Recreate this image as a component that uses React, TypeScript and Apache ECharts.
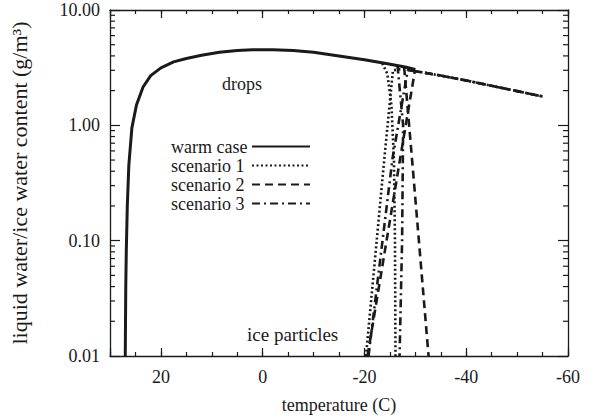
import React, { useEffect, useRef } from 'react';
import * as echarts from 'echarts';

// ---------- data (temperature in C, water content in g/m^3) ----------
const warmT = [27.0, 26.95, 26.9, 26.8, 26.6, 26.3, 25.7, 24.8, 23.5, 22, 20, 17.5, 15, 12, 8.5, 5, 2, -2, -6, -10, -15, -20, -24, -28, -30];
const warmV = [0.01, 0.02, 0.04, 0.08, 0.2, 0.45, 0.95, 1.5, 2.15, 2.7, 3.15, 3.55, 3.8, 4.05, 4.3, 4.45, 4.52, 4.53, 4.45, 4.3, 4.0, 3.7, 3.45, 3.2, 3.05];

const tailT = [-30, -35, -40, -45, -50, -55];
const tailV = [2.95, 2.7, 2.45, 2.2, 1.98, 1.78];

const s1DropT = [-23.5, -24.5, -25.3, -25.8, -26.0, -26.1];
const s1DropV = [3.45, 2.8, 1.5, 0.5, 0.1, 0.01];
const s1IceT = [-20.3, -23.9, -25.6, -28];
const s1IceV = [0.01, 0.51, 3.0, 3.1];

const s2DropT = [-27.8, -29.35, -32.6];
const s2DropV = [3.2, 0.51, 0.01];
const s2IceT = [-20.6, -27.0, -29.9];
const s2IceV = [0.01, 0.51, 2.95];

const s3DropT = [-26.5, -27.6, -27.4, -26.9];
const s3DropV = [3.3, 1.0, 0.1, 0.01];
const s3IceT = [-20.8, -25.5, -28.5];
const s3IceV = [0.01, 0.51, 3.0];

const yMinorTicks = [0.02, 0.03, 0.04, 0.05, 0.06, 0.07, 0.08, 0.09, 0.2, 0.3, 0.4, 0.5, 0.6, 0.7, 0.8, 0.9, 2, 3, 4, 5, 6, 7, 8, 9];

const legendNames = ['warm case', 'scenario 1', 'scenario 2', 'scenario 3'];

const FONT = '"Liberation Serif", "Times New Roman", serif';
const INK = '#1a1a1a';

const zip = (t: number[], v: number[]) => t.map((x, i) => [x, v[i]]);

function lineSeries(name: string, data: number[][], dash: any, width = 2.6) {
  return {
    type: 'line',
    name,
    data,
    xAxisIndex: 0,
    yAxisIndex: 0,
    showSymbol: false,
    symbol: 'none',
    smooth: false,
    lineStyle: { color: INK, width, type: dash },
    itemStyle: { color: INK },
    emphasis: { disabled: true },
  };
}

export default function App() {
  const ref = useRef<HTMLDivElement>(null);
  useEffect(() => {
    if (!ref.current) return;
    const chart = echarts.init(ref.current, null, { renderer: 'svg' });
    const xBase = {
      type: 'value',
      min: -60,
      max: 30,
      inverse: true,
      splitLine: { show: false },
    };
    const axLine = { show: true, onZero: false, lineStyle: { color: INK, width: 1.3 } };
    const option: any = {
      animation: false,
      backgroundColor: '#ffffff',
      grid: { left: 104, right: 26, top: 10, bottom: 60 },
      legend: {
        data: legendNames,
        orient: 'vertical',
        left: 166,
        top: 132,
        align: 'right',
        itemGap: 0,
        itemWidth: 58,
        itemHeight: 14,
        selectedMode: false,
        itemStyle: { opacity: 0 },
        formatter: (name: string) => '{t|' + name + '}',
        textStyle: {
          fontFamily: FONT,
          fontSize: 18,
          color: INK,
          lineHeight: 19,
          rich: {
            t: { width: 76, align: 'left', fontFamily: FONT, fontSize: 18, color: INK, lineHeight: 19 },
          },
        },
      },
      xAxis: [
        {
          ...xBase,
          position: 'bottom',
          interval: 20,
          axisLine: axLine,
          axisTick: { show: true, inside: true, length: 8, lineStyle: { color: INK, width: 1.2 } },
          axisLabel: {
            fontFamily: FONT,
            fontSize: 18,
            color: INK,
            margin: 12,
            formatter: (v: number) => (v === 30 ? '' : String(v)),
          },
          name: 'temperature (C)',
          nameLocation: 'middle',
          nameGap: 40,
          nameTextStyle: { fontFamily: FONT, fontSize: 18, color: INK },
        },
        {
          ...xBase,
          position: 'bottom',
          interval: 5,
          axisLine: { show: false, onZero: false },
          axisTick: { show: true, inside: true, length: 4, lineStyle: { color: INK, width: 1.2 } },
          axisLabel: { show: false },
        },
        {
          ...xBase,
          position: 'top',
          interval: 20,
          axisLine: axLine,
          axisTick: { show: true, inside: true, length: 8, lineStyle: { color: INK, width: 1.2 } },
          axisLabel: { show: false },
        },
        {
          ...xBase,
          position: 'top',
          interval: 5,
          axisLine: { show: false, onZero: false },
          axisTick: { show: true, inside: true, length: 4, lineStyle: { color: INK, width: 1.2 } },
          axisLabel: { show: false },
        },
      ],
      yAxis: [
        {
          type: 'log',
          logBase: 10,
          min: 0.01,
          max: 10,
          position: 'left',
          splitLine: { show: false },
          axisLine: axLine,
          axisTick: { show: true, inside: true, length: 10, lineStyle: { color: INK, width: 1.2 } },
          axisLabel: {
            fontFamily: FONT,
            fontSize: 18,
            color: INK,
            margin: 10,
            formatter: (v: number) => Number(v).toFixed(2),
          },
          name: 'liquid water/ice water content (g/m³)',
          nameLocation: 'middle',
          nameGap: 80,
          nameTextStyle: { fontFamily: FONT, fontSize: 22, color: INK },
        },
        {
          type: 'log',
          logBase: 10,
          min: 0.01,
          max: 10,
          position: 'right',
          splitLine: { show: false },
          axisLine: axLine,
          axisTick: { show: true, inside: true, length: 10, lineStyle: { color: INK, width: 1.2 } },
          axisLabel: { show: false },
        },
      ],
      graphic: [
        {
          type: 'text',
          left: 222,
          top: 75,
          style: { text: 'drops', fontFamily: FONT, fontSize: 18, fill: INK },
        },
        {
          type: 'text',
          left: 247,
          top: 325,
          style: { text: 'ice particles', fontFamily: FONT, fontSize: 19, fill: INK },
        },
      ],
      series: [
        {
          type: 'custom',
          name: 'minorTicks',
          coordinateSystem: 'cartesian2d',
          xAxisIndex: 0,
          yAxisIndex: 0,
          silent: true,
          data: yMinorTicks.map((v) => [0, v]),
          renderItem: (params: any, api: any) => {
            const y = api.coord([0, api.value(1)])[1];
            const cs = params.coordSys;
            const st = { stroke: INK, lineWidth: 1.2 };
            return {
              type: 'group',
              children: [
                { type: 'line', shape: { x1: cs.x, y1: y, x2: cs.x + 5, y2: y }, style: st },
                { type: 'line', shape: { x1: cs.x + cs.width - 5, y1: y, x2: cs.x + cs.width, y2: y }, style: st },
              ],
            };
          },
        },
        lineSeries('warm case', zip(warmT, warmV), 'solid', 3),
        lineSeries('scenario 1', zip(s1DropT, s1DropV), [2, 2.5]),
        lineSeries('scenario 1', zip(s1IceT.concat(tailT), s1IceV.concat(tailV)), [2, 2.5]),
        lineSeries('scenario 2', zip(s2DropT, s2DropV), [8, 5]),
        lineSeries('scenario 2', zip(s2IceT.concat(tailT), s2IceV.concat(tailV)), [8, 5]),
        lineSeries('scenario 3', zip(s3DropT, s3DropV), [8, 4, 2, 4]),
        lineSeries('scenario 3', zip(s3IceT.concat(tailT), s3IceV.concat(tailV)), [8, 4, 2, 4]),
      ],
    };
    chart.setOption(option);
    return () => chart.dispose();
  }, []);
  return (
    <div
      ref={ref}
      style={{ position: 'fixed', left: 0, top: 0, width: 594, height: 419, background: '#fff' }}
    />
  );
}
